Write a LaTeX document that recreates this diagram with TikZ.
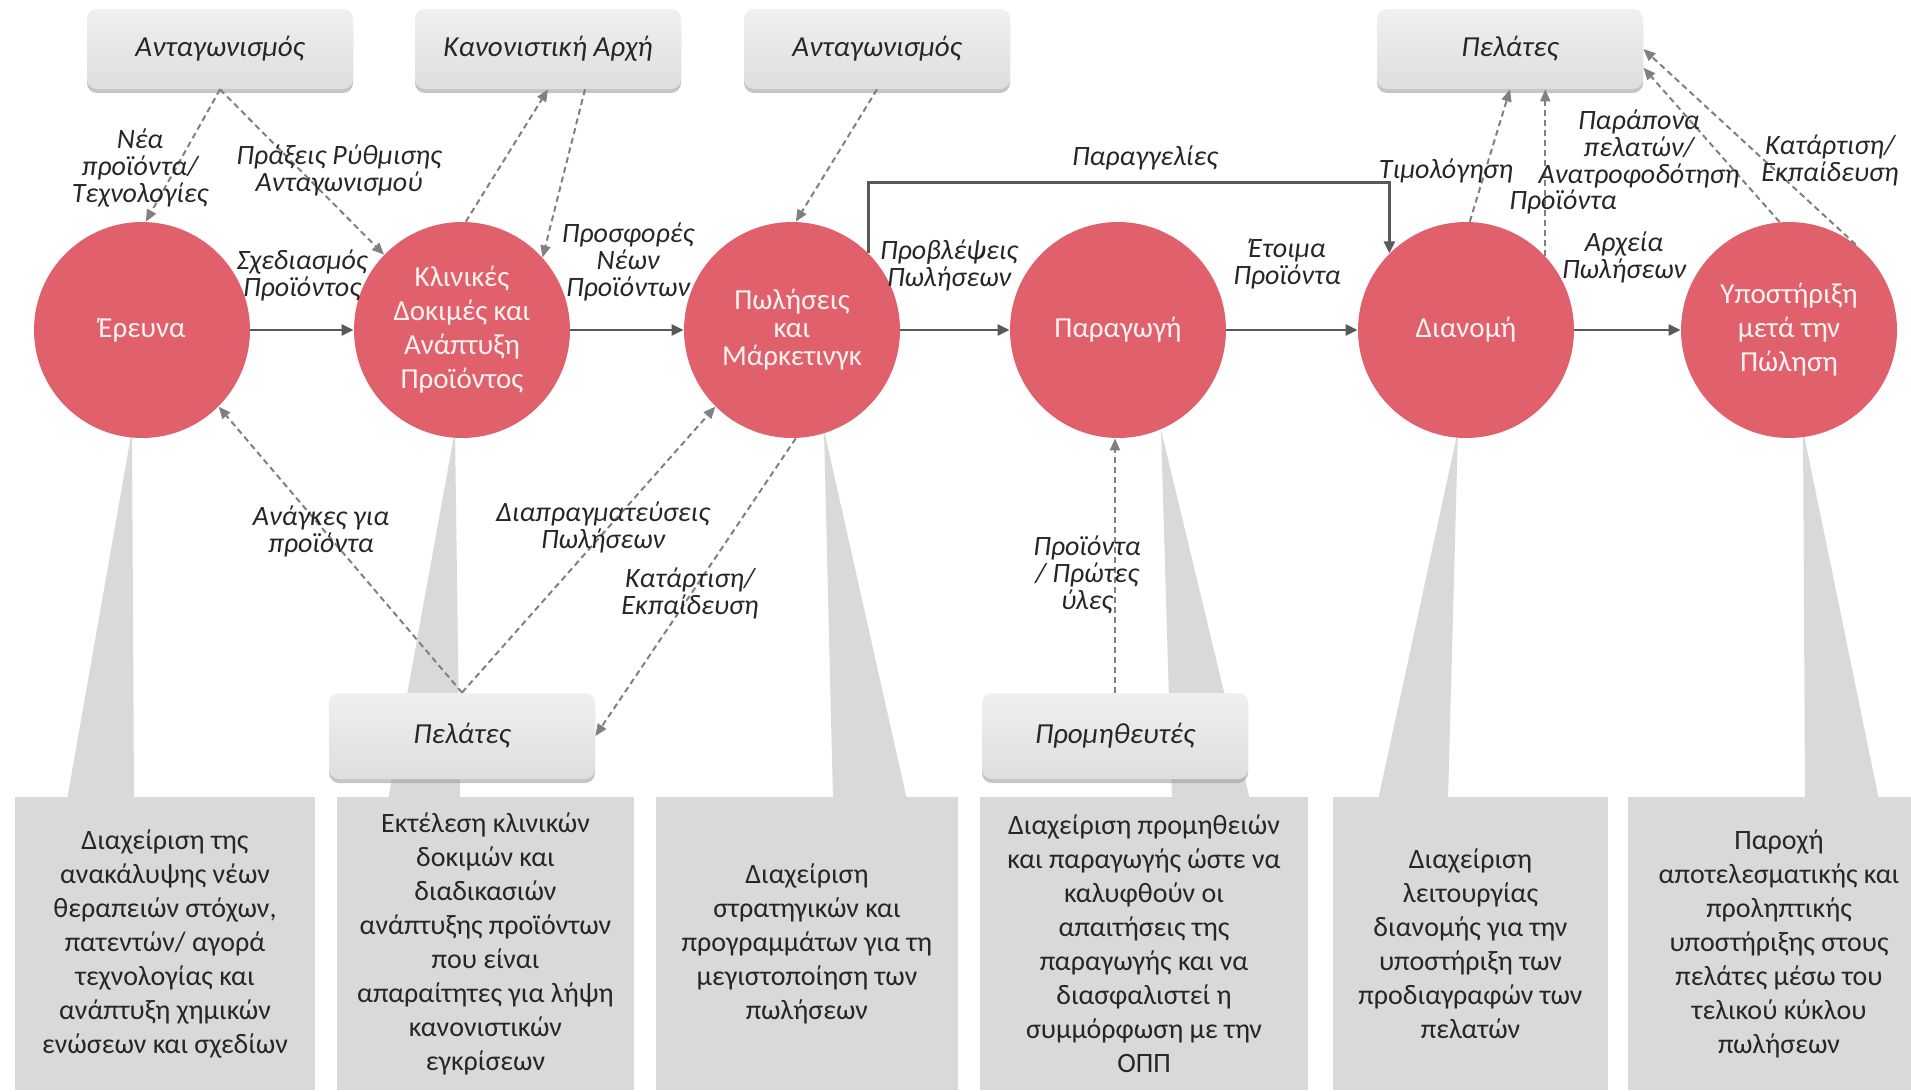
\documentclass[tikz,border=0pt]{standalone}
\usepackage{fontspec}
\setmainfont{Carlito}
\usepackage{tikz}
\usetikzlibrary{arrows.meta,shadows}

\definecolor{stagered}{HTML}{E0616B}
\definecolor{stagetext}{HTML}{FFF2F2}
\definecolor{boxgrey}{HTML}{D9D9D9}
\definecolor{darktext}{HTML}{262626}
\definecolor{flowgrey}{HTML}{595959}
\definecolor{infogrey}{HTML}{808080}

\tikzset{
  stage/.style={circle, fill=stagered, text=stagetext, minimum size=108pt,
    inner sep=0pt, align=center, font=\fontsize{14.5}{17}\selectfont},
  party/.style={rounded corners=5pt, top color=gray!12, bottom color=gray!26,
    minimum width=133pt, minimum height=40pt, text=darktext,
    font=\itshape\fontsize{14.5}{15}\selectfont,
    drop shadow={shadow xshift=0pt, shadow yshift=-2pt, fill=gray!75, opacity=.6}},
  task/.style={fill=boxgrey, text=darktext, align=center, inner sep=0pt,
    minimum height=146.5pt, font=\fontsize{14}{17}\selectfont},
  lbl/.style={text=darktext, align=center, inner sep=0pt,
    font=\itshape\fontsize{14}{13.5}\selectfont},
  flow/.style={draw=flowgrey, line width=1.2pt,
    -{Triangle[length=6pt,width=5.5pt]}},
  info/.style={draw=infogrey, line width=1pt, dash pattern=on 3pt off 2pt,
    -{Triangle[length=6pt,width=5pt]}}
}

\begin{document}
\begin{tikzpicture}[x=0.5pt,y=-0.5pt]
  \useasboundingbox (0,0) rectangle (1911,1092);

  % wedges under the stages
  \foreach \ax/\bl/\br in {132/67/134, 455/388/460, 824/833/907,
                          1161/1172/1250, 1458/1378/1448, 1803/1805/1879}
    { \fill[boxgrey] (\ax,430) -- (\bl,800) -- (\br,800) -- cycle; }

  % task boxes
  \node[task, minimum width=150pt] (t1) at (165,943.5)
    {Διαχείριση της\\ανακάλυψης νέων\\θεραπειών στόχων,\\πατεντών/ αγορά\\τεχνολογίας και\\ανάπτυξη χημικών\\ενώσεων και σχεδίων};
  \node[task, minimum width=148.5pt] (t2) at (485.5,943.5)
    {Εκτέλεση κλινικών\\δοκιμών και\\διαδικασιών\\ανάπτυξης προϊόντων\\που είναι\\απαραίτητες για λήψη\\κανονιστικών\\εγκρίσεων};
  \node[task, minimum width=151pt] (t3) at (807,943.5)
    {Διαχείριση\\στρατηγικών και\\προγραμμάτων για τη\\μεγιστοποίηση των\\πωλήσεων};
  \node[task, minimum width=164pt] (t4) at (1144,943.5)
    {Διαχείριση προμηθειών\\και παραγωγής ώστε να\\καλυφθούν οι\\απαιτήσεις της\\παραγωγής και να\\διασφαλιστεί η\\συμμόρφωση με την\\ΟΠΠ};
  \node[task, minimum width=137.5pt] (t5) at (1470.5,943.5)
    {Διαχείριση\\λειτουργίας\\διανομής για την\\υποστήριξη των\\προδιαγραφών των\\πελατών};
  \node[task, minimum width=151pt] (t6) at (1779,943.5)
    {Παροχή\\αποτελεσματικής και\\προληπτικής\\υποστήριξης στους\\πελάτες μέσω του\\τελικού κύκλου\\πωλήσεων};

  % stages
  \node[stage] (res) at (142,330) {Έρευνα};
  \node[stage] (clin) at (462,330) {Κλινικές\\Δοκιμές και\\Ανάπτυξη\\Προϊόντος};
  \node[stage, font=\fontsize{14.5}{14}\selectfont] (mark) at (792,330) {Πωλήσεις\\και\\Μάρκετινγκ};
  \node[stage] (prod) at (1118,330) {Παραγωγή};
  \node[stage] (dist) at (1466,330) {Διανομή};
  \node[stage] (supp) at (1789,330) {Υποστήριξη\\μετά την\\Πώληση};

  % outside parties
  \node[party] (comp1) at (220,49) {Ανταγωνισμός};
  \node[party] (cano) at (548,49) {Κανονιστική Αρχή};
  \node[party] (comp2) at (877,49) {Ανταγωνισμός};
  \node[party] (custtop) at (1510,49) {Πελάτες};
  \node[party, minimum height=43pt] (cust) at (462,736) {Πελάτες};
  \node[party, minimum height=43pt] (prov) at (1115,736) {Προμηθευτές};

  % main flow
  \foreach \a/\b in {res/clin, clin/mark, mark/prod, prod/dist, dist/supp}
    { \draw[flow] (\a) -- (\b); }
  \draw[flow] (mark.45) -- ++(0,-71) -| (dist.135);

  % information exchange
  \foreach \a/\b in {
    comp1.south/res.88,
    comp1.south/clin.136,
    clin.88/cano.south,
    comp2.south/mark.88,
    cust.north/res.-45,
    cust.north/mark.225,
    mark.-88/cust.east,
    dist.88/custtop.south,
    supp.95/custtop.-8,
    supp.52/custtop.east%
  } { \draw[info] (\a) -- (\b); }
  \draw[info] ([xshift=18.5pt]cano.south) -- (clin.42);
  \draw[info] (dist.43) -- (dist.43 |- custtop.south);
  \draw[info] (prov.north) -- (prov.north |- prod.south);

  % labels
  \node[lbl] (lnew) at (140,168) {Νέα\\προϊόντα/\\Τεχνολογίες};
  \node[lbl] (lact) at (339,170) {Πράξεις Ρύθμισης\\Ανταγωνισμού};
  \node[lbl] (ldes) at (302,275) {Σχεδιασμός\\Προϊόντος};
  \node[lbl] (loff) at (628,262) {Προσφορές\\Νέων\\Προϊόντων};
  \node[lbl] (lfor) at (949,265) {Προβλέψεις\\Πωλήσεων};
  \node[lbl] (lord) at (1145,158) {Παραγγελίες};
  \node[lbl] (lrdy) at (1287,264) {Έτοιμα\\Προϊόντα};
  \node[lbl] (linv) at (1446,171) {Τιμολόγηση};
  \node[lbl] (lprd) at (1563,202) {Προϊόντα};
  \node[lbl] (lcmp) at (1639,149) {Παράπονα\\πελατών/\\Ανατροφοδότηση};
  \node[lbl] (ltr1) at (1830,160) {Κατάρτιση/\\Εκπαίδευση};
  \node[lbl] (lrec) at (1624,257) {Αρχεία\\Πωλήσεων};
  \node[lbl] (lnee) at (321,531) {Ανάγκες για\\προϊόντα};
  \node[lbl] (lneg) at (603,527) {Διαπραγματεύσεις\\Πωλήσεων};
  \node[lbl] (ltr2) at (690,593) {Κατάρτιση/\\Εκπαίδευση};
  \node[lbl] (lraw) at (1087,575) {Προϊόντα\\/ Πρώτες\\ύλες};
\end{tikzpicture}
\end{document}
